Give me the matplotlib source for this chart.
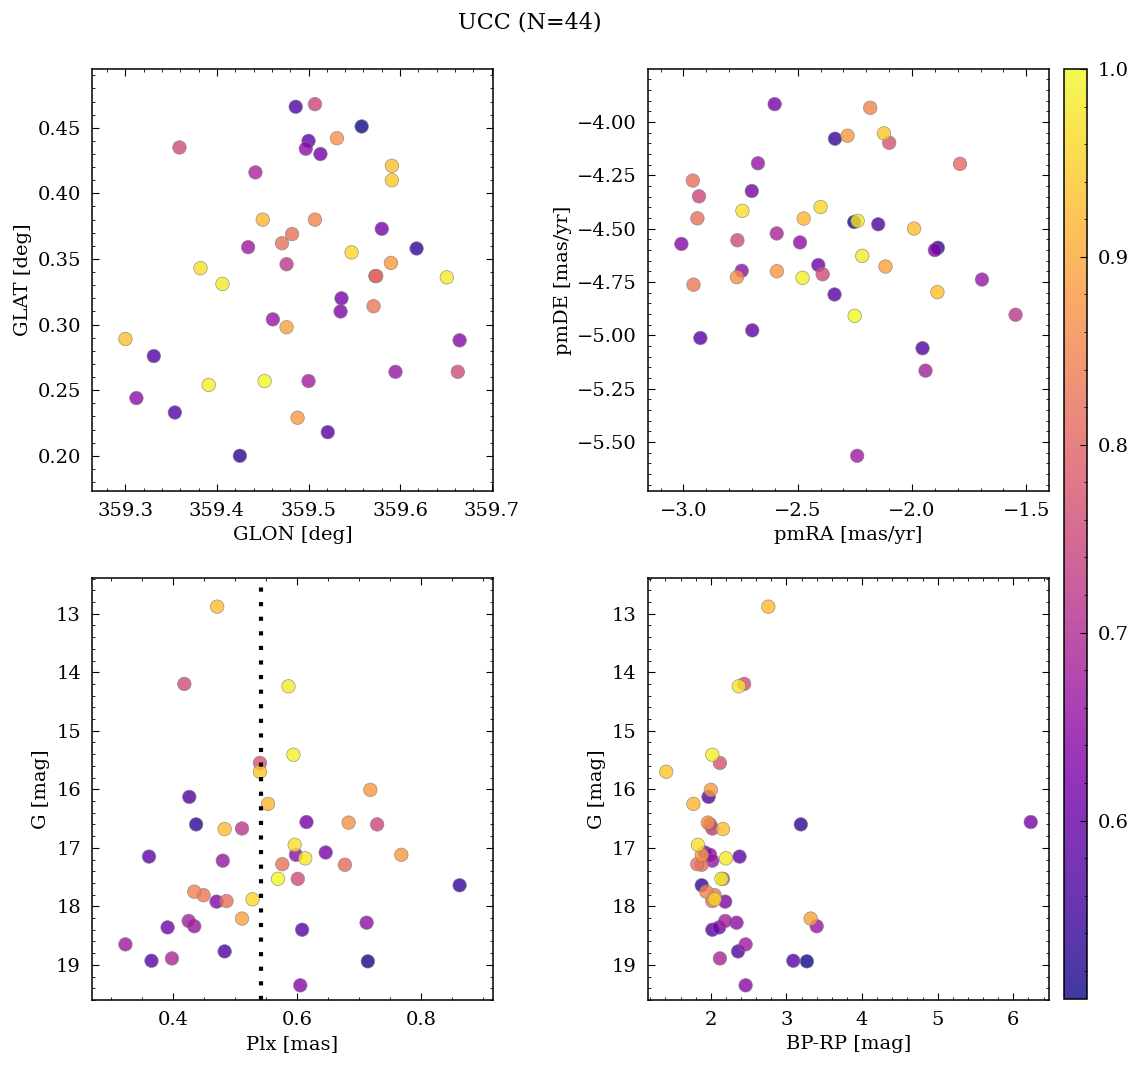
import numpy as np
import matplotlib
matplotlib.use("Agg")
import matplotlib.pyplot as plt
from matplotlib.ticker import MultipleLocator

# one entry per member star (same order in every array)
plx = [0.471, 0.418, 0.586, 0.594, 0.540, 0.540, 0.718, 0.426, 0.553, 0.437,
       0.615, 0.683, 0.483, 0.511, 0.729, 0.361, 0.480, 0.596, 0.598, 0.613,
       0.646, 0.768, 0.576, 0.677, 0.569, 0.601, 0.862, 0.434, 0.449, 0.470,
       0.486, 0.528, 0.511, 0.425, 0.434, 0.391, 0.608, 0.712, 0.323, 0.483,
       0.365, 0.398, 0.714, 0.605]
gmag = [12.88, 14.20, 14.24, 15.41, 15.55, 15.70, 16.01, 16.13, 16.25, 16.60,
        16.56, 16.57, 16.68, 16.67, 16.60, 17.15, 17.22, 16.95, 17.12, 17.18,
        17.08, 17.12, 17.28, 17.29, 17.53, 17.53, 17.64, 17.75, 17.81, 17.92,
        17.91, 17.88, 18.21, 18.25, 18.34, 18.36, 18.40, 18.28, 18.65, 18.77,
        18.93, 18.89, 18.94, 19.35]
bp_rp = [2.76, 2.44, 2.37, 2.02, 2.12, 1.41, 2.00, 1.97, 1.77, 3.19,
         6.23, 1.96, 2.16, 2.02, 1.99, 2.38, 2.02, 1.83, 1.99, 2.20,
         1.92, 1.88, 1.82, 1.88, 2.14, 2.16, 1.88, 1.94, 2.05, 2.19,
         2.02, 2.05, 3.32, 2.19, 3.40, 2.11, 2.02, 2.34, 2.46, 2.36,
         3.09, 2.12, 3.27, 2.46]
prob = [0.93, 0.76, 0.98, 0.99, 0.77, 0.94, 0.88, 0.57, 0.92, 0.53,
        0.62, 0.87, 0.93, 0.72, 0.75, 0.59, 0.66, 0.97, 0.65, 0.98,
        0.62, 0.88, 0.82, 0.81, 1.00, 0.76, 0.54, 0.85, 0.83, 0.63,
        0.82, 0.96, 0.89, 0.68, 0.66, 0.61, 0.58, 0.65, 0.67, 0.57,
        0.58, 0.69, 0.505, 0.64]
glon = [359.300, 359.663, 359.651, 359.391, 359.573, 359.591, 359.590, 359.331, 359.450, 359.425,
        359.580, 359.531, 359.591, 359.476, 359.507, 359.500, 359.461, 359.382, 359.312, 359.406,
        359.536, 359.488, 359.482, 359.574, 359.452, 359.359, 359.618, 359.507, 359.571, 359.535,
        359.471, 359.547, 359.476, 359.500, 359.595, 359.513, 359.354, 359.497, 359.434, 359.486,
        359.521, 359.442, 359.558, 359.665]
glat = [0.289, 0.264, 0.336, 0.254, 0.337, 0.410, 0.347, 0.276, 0.380, 0.200,
        0.373, 0.442, 0.421, 0.346, 0.468, 0.440, 0.304, 0.343, 0.244, 0.331,
        0.320, 0.229, 0.369, 0.337, 0.257, 0.435, 0.358, 0.380, 0.314, 0.310,
        0.362, 0.355, 0.298, 0.257, 0.264, 0.430, 0.233, 0.434, 0.359, 0.466,
        0.218, 0.416, 0.451, 0.288]
pmra = [-1.991, -2.764, -2.238, -2.479, -2.100, -2.123, -2.282, -2.148, -2.474, -1.887,
        -2.701, -2.766, -1.889, -1.547, -2.932, -2.699, -1.694, -2.742, -2.490, -2.218,
        -2.601, -2.591, -2.959, -1.790, -2.251, -2.391, -2.337, -2.183, -2.956, -1.900,
        -2.939, -2.400, -2.116, -1.941, -2.674, -2.410, -2.339, -2.745, -2.240, -1.954,
        -2.926, -2.592, -2.253, -3.009]
pmde = [-4.499, -4.554, -4.463, -4.730, -4.097, -4.053, -4.064, -4.479, -4.452, -4.589,
        -4.323, -4.727, -4.797, -4.903, -4.348, -4.976, -4.738, -4.416, -4.564, -4.627,
        -3.916, -4.699, -4.274, -4.196, -4.908, -4.713, -4.078, -3.933, -4.762, -4.600,
        -4.451, -4.398, -4.677, -5.165, -4.193, -4.670, -4.808, -4.697, -5.564, -5.060,
        -5.012, -4.522, -4.468, -4.571]
plx_ref = 0.541
title = "UCC (N=44)"

plt.rcParams["font.family"] = "DejaVu Serif"
plt.rcParams["font.size"] = 14
plt.rcParams["xtick.direction"] = "in"
plt.rcParams["ytick.direction"] = "in"
plt.rcParams["xtick.top"] = True
plt.rcParams["ytick.right"] = True
plt.rcParams["xtick.minor.visible"] = True
plt.rcParams["ytick.minor.visible"] = True
plt.rcParams["xtick.major.size"] = 5
plt.rcParams["ytick.major.size"] = 5
plt.rcParams["xtick.minor.size"] = 2.5
plt.rcParams["ytick.minor.size"] = 2.5
plt.rcParams["xtick.major.pad"] = 8
plt.rcParams["ytick.major.pad"] = 8
plt.rcParams["axes.linewidth"] = 1.1

fig = plt.figure(figsize=(11.36, 10.68), dpi=100)
w, h = 0.353, 0.3951
ax1 = fig.add_axes([0.081, 0.5403, w, h])
ax2 = fig.add_axes([0.5704, 0.5403, w, h])
ax3 = fig.add_axes([0.081, 0.0637, w, h])
ax4 = fig.add_axes([0.5704, 0.0637, w, h])
cax = fig.add_axes([0.9366, 0.0646, 0.0202, 0.8708])

# plot low-probability stars first so the high ones sit on top
order = np.argsort(prob, kind="stable")
def pick(a):
    return np.asarray(a)[order]

kw = dict(c=pick(prob), cmap="plasma", s=95, alpha=0.8, edgecolors="gray", linewidths=0.5)

sc = ax1.scatter(pick(glon), pick(glat), **kw)
ax1.set_xlabel("GLON [deg]")
ax1.set_ylabel("GLAT [deg]")
ax1.margins(0.1)

ax2.scatter(pick(pmra), pick(pmde), **kw)
ax2.set_xlabel("pmRA [mas/yr]")
ax2.set_ylabel("pmDE [mas/yr]")
ax2.margins(0.1)

ax3.scatter(pick(plx), pick(gmag), **kw)
ax3.axvline(plx_ref, color="black", lw=3, linestyle=(0, (1, 2.5)))
ax3.set_xlabel("Plx [mas]")
ax3.set_ylabel("G [mag]")
ax3.margins(x=0.1)
ax3.set_ylim(19.6, 12.39)
ax3.xaxis.set_major_locator(MultipleLocator(0.2))

ax4.scatter(pick(bp_rp), pick(gmag), **kw)
ax4.set_xlabel("BP-RP [mag]")
ax4.set_ylabel("G [mag]")
ax4.margins(x=0.05)
ax4.set_ylim(19.6, 12.39)

cb = fig.colorbar(sc, cax=cax)
cb.ax.minorticks_on()
cb.ax.tick_params(direction="in")

fig.suptitle(title, fontsize=16, x=0.4665, y=0.989)

fig.savefig("out.png", dpi=100)
